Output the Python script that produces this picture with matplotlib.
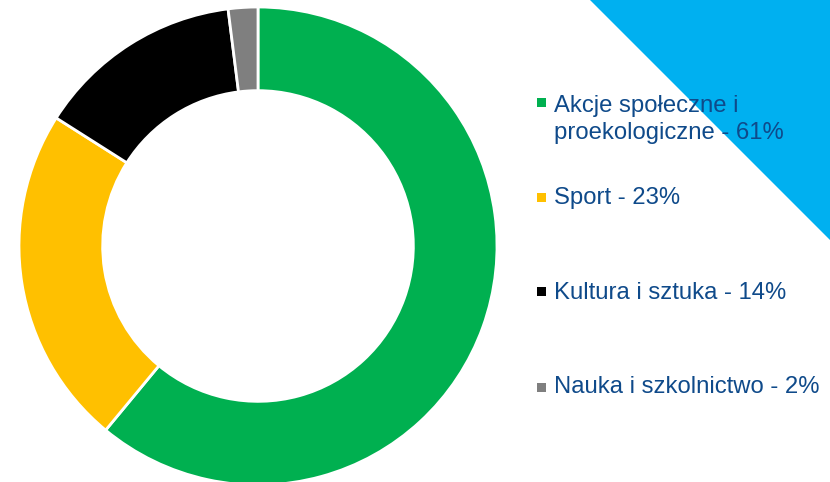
import matplotlib
matplotlib.use("Agg")
import matplotlib.pyplot as plt
from matplotlib.patches import Polygon, Rectangle

categories = ["Akcje społeczne i\nproekologiczne", "Sport", "Kultura i sztuka", "Nauka i szkolnictwo"]
values = [61, 23, 14, 2]
colors = ["#00B050", "#FFC000", "#000000", "#7F7F7F"]

W, H = 830, 482
fig = plt.figure(figsize=(W / 100, H / 100), dpi=100)
plt.rcParams['font.family'] = ['Liberation Sans', 'DejaVu Sans']

# decorative blue triangle, top-right
tri = Polygon([(590 / W, 1), (1, 1), (1, 1 - 240 / H)], closed=True,
              transform=fig.transFigure, facecolor="#00B0F0", edgecolor="none", zorder=0)
fig.patches.append(tri)

cx, cy, r = 258, 246, 239
ax = fig.add_axes([(cx - r) / W, (H - cy - r) / H, 2 * r / W, 2 * r / H])
ax.pie(values, colors=colors, startangle=90, counterclock=False, radius=1,
       wedgeprops=dict(width=0.35, edgecolor="white", linewidth=2))
ax.set_xlim(-1.0, 1.0)
ax.set_ylim(-1.0, 1.0)
ax.set_aspect("equal")
ax.axis("off")

# legend
text_color = "#0F4A8A"
baselines = [112, 204, 299, 393]
marker_tops = [98, 193, 287, 383]
for cat, val, col, bl, mt in zip(categories, values, colors, baselines, marker_tops):
    fig.patches.append(Rectangle((537 / W, 1 - (mt + 9) / H), 9 / W, 9 / H,
                                 transform=fig.transFigure, facecolor=col, edgecolor="none"))
    lines = f"{cat} - {val}%".split("\n")
    for i, ln in enumerate(lines):
        fig.text(554 / W, 1 - (bl + 27 * i) / H, ln, fontsize=17.2, color=text_color,
                 va="baseline", ha="left")

fig.savefig("out.png", dpi=100)
